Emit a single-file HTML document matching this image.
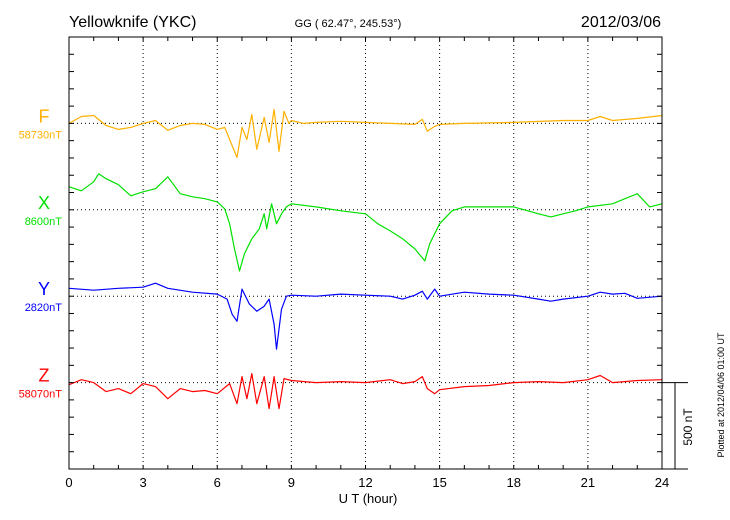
<!DOCTYPE html>
<html><head><meta charset="utf-8"><style>
body{margin:0;background:#fff;}
svg{display:block;font-family:"Liberation Sans",sans-serif;}
</style></head><body>
<svg id="chart" width="730" height="520" viewBox="0 0 730 520">
<text x="69" y="27" font-size="16">Yellowknife (YKC)</text>
<text x="348" y="27" font-size="11" text-anchor="middle">GG ( 62.47°, 245.53°)</text>
<text x="661" y="27" font-size="16" text-anchor="end">2012/03/06</text>
<g id="grid"></g><g id="series"></g><g id="axes"></g>
<text x="368" y="503" font-size="13" text-anchor="middle">U T (hour)</text>
<text transform="translate(724,395) rotate(-90)" font-size="9" text-anchor="middle">Plotted at 2012/04/06 01:00 UT</text>
<text transform="translate(692,427) rotate(-90)" font-size="12" text-anchor="middle">500 nT</text>
</svg>
<script>
const hoursF=[0,0.5,1,1.5,2,2.5,3,3.5,4,4.5,5,5.5,6,6.3,6.5,6.8,7,7.2,7.4,7.6,7.9,8.1,8.3,8.5,8.7,8.9,9,9.5,10,11,12,13,14,14.3,14.5,14.8,15,16,18,20,21,21.5,22,23,24];
const valuesF=[0,40,46,-12,-35,-23,0,17,-40,-12,0,-6,-35,-23,-93,-197,-23,-93,52,-150,35,-110,81,-162,70,0,17,0,6,12,6,0,-6,23,-46,-17,-6,0,6,17,17,40,17,29,46];
const hoursX=[0,0.5,1,1.2,1.5,2,2.5,3,3.5,4,4.5,5,5.5,6,6.3,6.5,6.7,6.9,7.1,7.4,7.7,7.9,8.0,8.2,8.4,8.6,8.8,9,10,11,12,12.5,13,13.5,14,14.4,14.6,15,15.5,16,17,18,19,19.5,20,20.5,21,22,22.5,23,23.5,24];
const valuesX=[133,110,162,209,180,145,81,104,122,191,93,75,64,46,6,-81,-226,-354,-255,-168,-110,-23,-110,35,-81,-23,17,35,17,-6,-23,-81,-122,-168,-226,-296,-197,-81,-6,17,17,17,-23,-41,-23,-6,17,35,64,93,17,35];
const hoursY=[0,1,2,3,3.5,4,5,6,6.4,6.6,6.8,7,7.3,7.6,7.9,8.1,8.3,8.4,8.6,8.8,9,10,11,12,13,13.5,14,14.3,14.5,14.8,15,16,17,18,19,19.5,20,21,21.5,22,22.5,23,24];
const valuesY=[46,35,46,52,75,46,23,12,-17,-104,-145,41,-46,-87,-58,-17,-162,-307,-75,0,6,0,12,6,0,-17,6,29,-17,41,0,23,12,6,-17,-29,-17,0,23,12,17,-12,0];
const hoursZ=[0,0.5,1,1.5,2,2.5,3,3.5,4,4.5,5,5.5,6,6.5,6.8,7,7.2,7.4,7.6,7.9,8.1,8.3,8.5,8.7,9,10,11,12,13,13.5,14,14.3,14.5,14.8,15,16,17,18,19,20,21,21.5,22,23,24];
const valuesZ=[-12,17,0,-52,-35,-64,-6,-23,-93,-35,-52,-46,-64,-6,-122,35,-93,52,-122,35,-151,35,-151,23,12,0,6,0,17,-6,6,35,-35,-64,-41,-23,-17,0,6,0,17,41,0,12,17];
const seriesNames=["F","X","Y","Z"];
const baseLabels=["58730nT","8600nT","2820nT","58070nT"];
const seriesColors=["#ffb000","#00e000","#0000ff","#ff0000"];
const xTicks=[0,3,6,9,12,15,18,21,24];

const NS="http://www.w3.org/2000/svg";
const X0=69,X1=662,Y0=37,Y1=469,STEP=(Y1-Y0)/25,PXNT=STEP/100;
const xs=h=>X0+h*(X1-X0)/24;
const baseY=i=>Y0+STEP*(5+5*i);
const ys=(i,v)=>baseY(i)-v*PXNT;
function mk(tag,attrs,parent){const e=document.createElementNS(NS,tag);for(const k in attrs)e.setAttribute(k,attrs[k]);parent.appendChild(e);return e;}
const grid=document.getElementById('grid'),ser=document.getElementById('series'),ax=document.getElementById('axes');
xTicks.slice(1,-1).forEach(h=>{const l=mk('line',{x1:xs(h),x2:xs(h),y1:Y0,y2:Y1,stroke:'#000','stroke-width':1,'stroke-dasharray':'1,3'},grid);

});
const H=[hoursF,hoursX,hoursY,hoursZ],V=[valuesF,valuesX,valuesY,valuesZ];
for(let i=0;i<4;i++){
 const g=mk('line',{x1:X0,x2:X1,y1:baseY(i),y2:baseY(i),stroke:'#000','stroke-width':1,'stroke-dasharray':'1,3'},grid);
 
 
 const pts=H[i].map((h,k)=>xs(h).toFixed(1)+','+ys(i,V[i][k]).toFixed(1)).join(' ');
 const p=mk('polyline',{points:pts,fill:'none',stroke:seriesColors[i],'stroke-width':1.2,'stroke-linejoin':'round'},ser);
 
 
 const t=mk('text',{x:44,y:baseY(i)-1,fill:seriesColors[i],'font-size':18,'text-anchor':'middle'},ax);t.textContent=seriesNames[i];
 
 
 const b=mk('text',{x:62,y:baseY(i)+15,fill:seriesColors[i],'font-size':11,'text-anchor':'end'},ax);b.textContent=baseLabels[i];
 
 
}
const fr=mk('rect',{x:X0,y:Y0,width:X1-X0,height:Y1-Y0,fill:'none',stroke:'#000','stroke-width':1},ax);


for(let h=0;h<=24;h++){mk('line',{x1:xs(h),x2:xs(h),y1:Y0,y2:Y0+4,stroke:'#000'},ax);mk('line',{x1:xs(h),x2:xs(h),y1:Y1,y2:Y1-4,stroke:'#000'},ax);}
for(let k=1;k<25;k++){const y=Y0+k*STEP;mk('line',{x1:X0,x2:X0+5,y1:y,y2:y,stroke:'#000'},ax);mk('line',{x1:X1,x2:X1-5,y1:y,y2:y,stroke:'#000'},ax);}
xTicks.forEach(h=>{const t=mk('text',{x:xs(h),y:487,'font-size':13,'text-anchor':'middle'},ax);t.textContent=h;

});
mk('line',{x1:X1,x2:688,y1:baseY(3),y2:baseY(3),stroke:'#000'},ax);
mk('line',{x1:X1,x2:688,y1:Y1,y2:Y1,stroke:'#000'},ax);
const sb=mk('line',{x1:675,x2:675,y1:baseY(3),y2:Y1,stroke:'#000'},ax);


</script>
</body></html>
